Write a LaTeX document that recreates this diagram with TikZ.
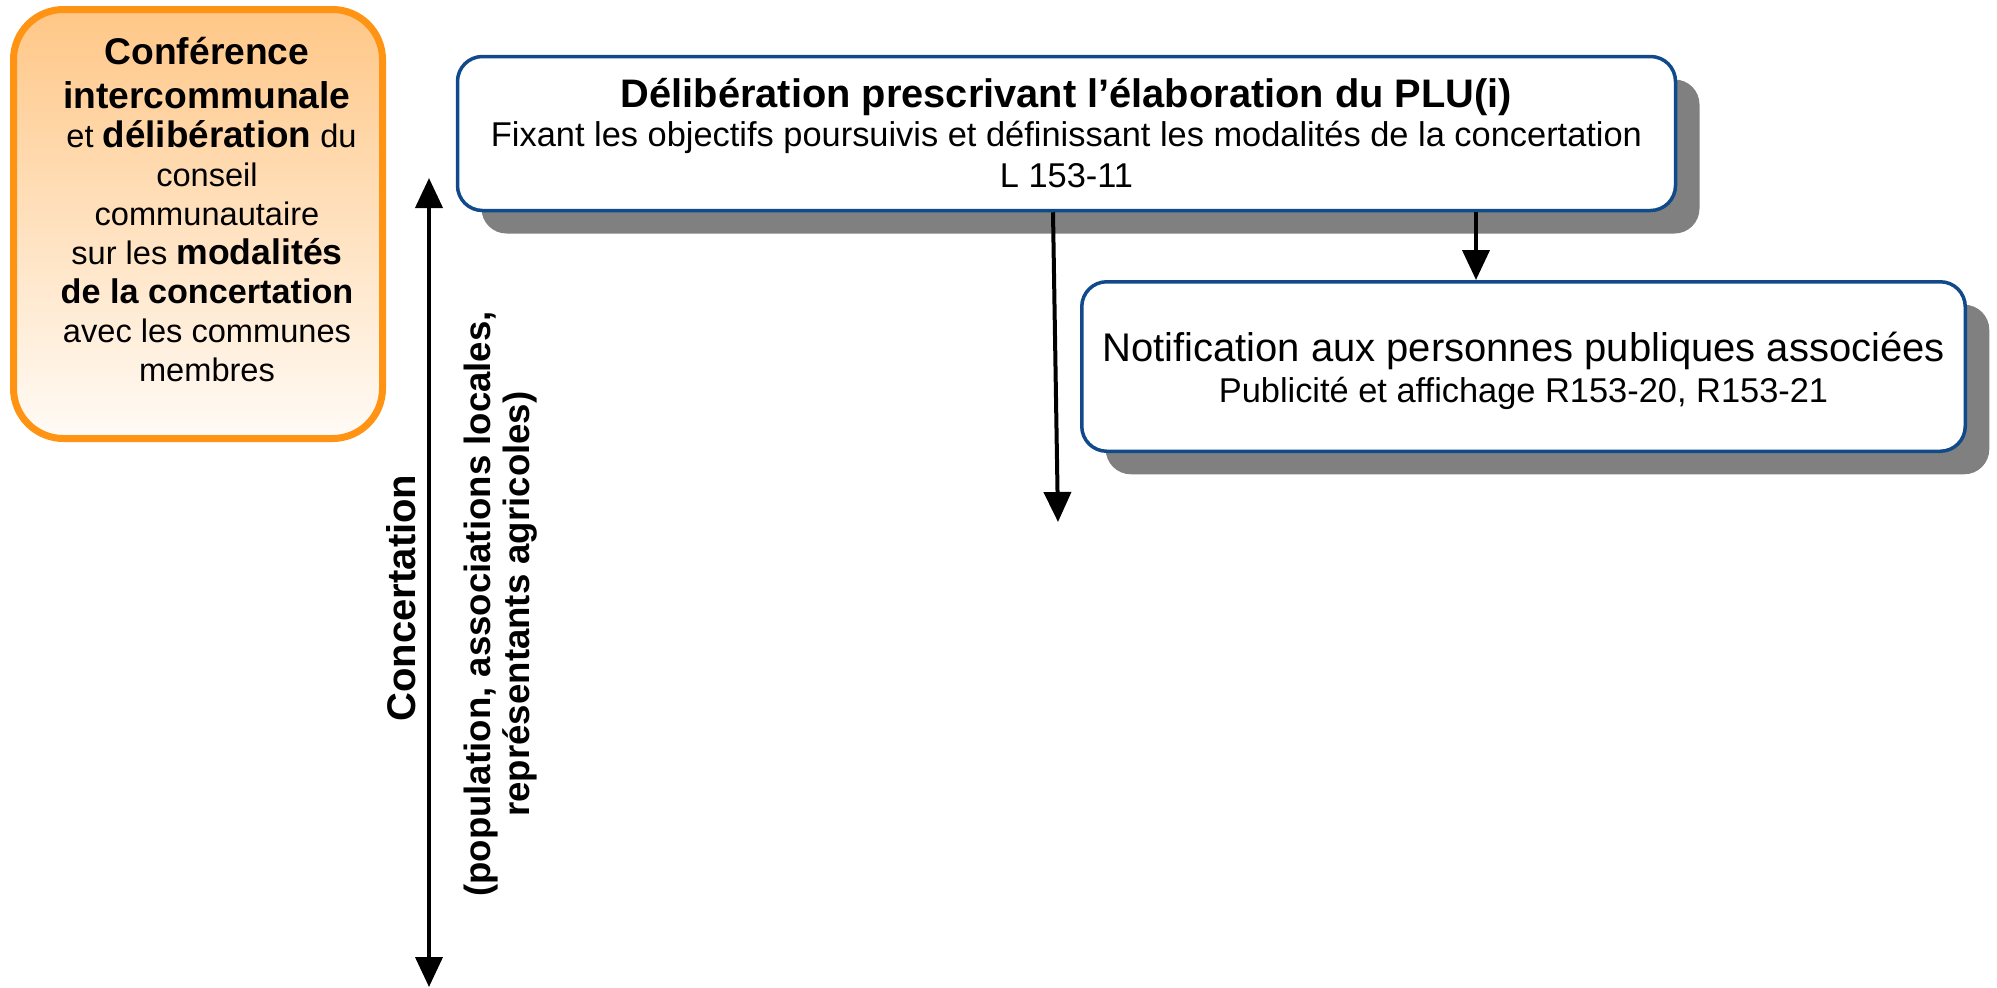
\documentclass[tikz,border=0pt]{standalone}
\usepackage{fontspec}
\setmainfont{Liberation Sans}
\usetikzlibrary{arrows.meta,shadows,calc}
\definecolor{boxblue}{RGB}{16,74,138}
\definecolor{orangeb}{RGB}{255,148,20}
\definecolor{orangetop}{RGB}{255,199,135}
\definecolor{orangebot}{RGB}{255,251,246}
\definecolor{shadowgray}{RGB}{128,128,128}
\newcommand{\bfbig}[2]{{\fontsize{#1}{19.5}\selectfont\bfseries #2}}
\begin{document}
\begin{tikzpicture}[x=0.5pt,y=-0.5pt,
  bluebox/.style={draw=boxblue, line width=1.75pt, rounded corners=12.5pt, fill=white,
    drop shadow={shadow xshift=12pt, shadow yshift=-11.5pt, fill=shadowgray, opacity=1},
    inner sep=0pt, align=center},
  orangebox/.style={draw=orangeb, line width=3.5pt, rounded corners=25pt,
    top color=orangetop, bottom color=orangebot, inner sep=0pt},
  arr/.style={line width=2pt, -{Triangle[length=15pt,width=13.5pt]}},
  dblarr/.style={line width=2pt, {Triangle[length=15pt,width=13.5pt]}-{Triangle[length=15pt,width=13.5pt]}},
  rottext/.style={rotate=90, inner sep=0pt, align=center}
]
\useasboundingbox (0,0) rectangle (1997,987);

% left orange box
\node[orangebox, minimum width=184.5pt, minimum height=214.5pt] (conf) at (198,224) {};
\node[inner sep=0pt, align=center, font=\fontsize{16.3}{19.5}\selectfont] (conftext) at (207,210)
  {{\fontsize{18.6}{22}\selectfont\bfseries Conférence}\\[2.5pt]
   {\fontsize{18.6}{22}\selectfont\bfseries intercommunale}\\[0pt]
   \hspace*{4.5pt}et \bfbig{18.4}{délibération} du\\
   conseil\\
   communautaire\\
   sur les \bfbig{17.8}{modalités}\\
   \bfbig{17.1}{de la concertation}\\
   avec les communes\\
   membres};

% top box
\node[bluebox, minimum width=609pt, minimum height=77pt, font=\fontsize{17.2}{20.5}\selectfont] (delib) at (1066.5,133.5)
  {{\fontsize{19.9}{20.5}\selectfont\bfseries Délibération prescrivant l’élaboration du PLU(i)}\\[-1pt]
   Fixant les objectifs poursuivis et définissant les modalités de la concertation\\
   L 153-11};

% notification box
\node[bluebox, minimum width=441.75pt, minimum height=84.75pt, font=\fontsize{17.2}{20.5}\selectfont] (notif) at (1523.5,366.5)
  {\rule{0pt}{19.5pt}{\fontsize{20}{20.5}\selectfont Notification aux personnes publiques associées}\\
   Publicité et affichage R153-20, R153-21};

% arrows
\coordinate (a1x) at (1053,0);
\coordinate (a1e) at (1058,522);
\draw[arr] (delib.south -| a1x) -- (a1e);
\coordinate (a2x) at (1476,0);
\draw[arr] (delib.south -| a2x) -- (notif.north -| a2x);

\coordinate (c1) at (429,178);
\coordinate (c2) at (429,987);
\draw[dblarr] (c1) -- (c2);

% rotated texts
\node[rottext, font=\bfseries\fontsize{20}{24}\selectfont] (conc) at (401,598) {Concertation};
\node[rottext, font=\bfseries\fontsize{18.3}{19.5}\selectfont] (concsub) at (501,604)
  {(population, associations locales,\\ représentants agricoles)};
\end{tikzpicture}
\end{document}
